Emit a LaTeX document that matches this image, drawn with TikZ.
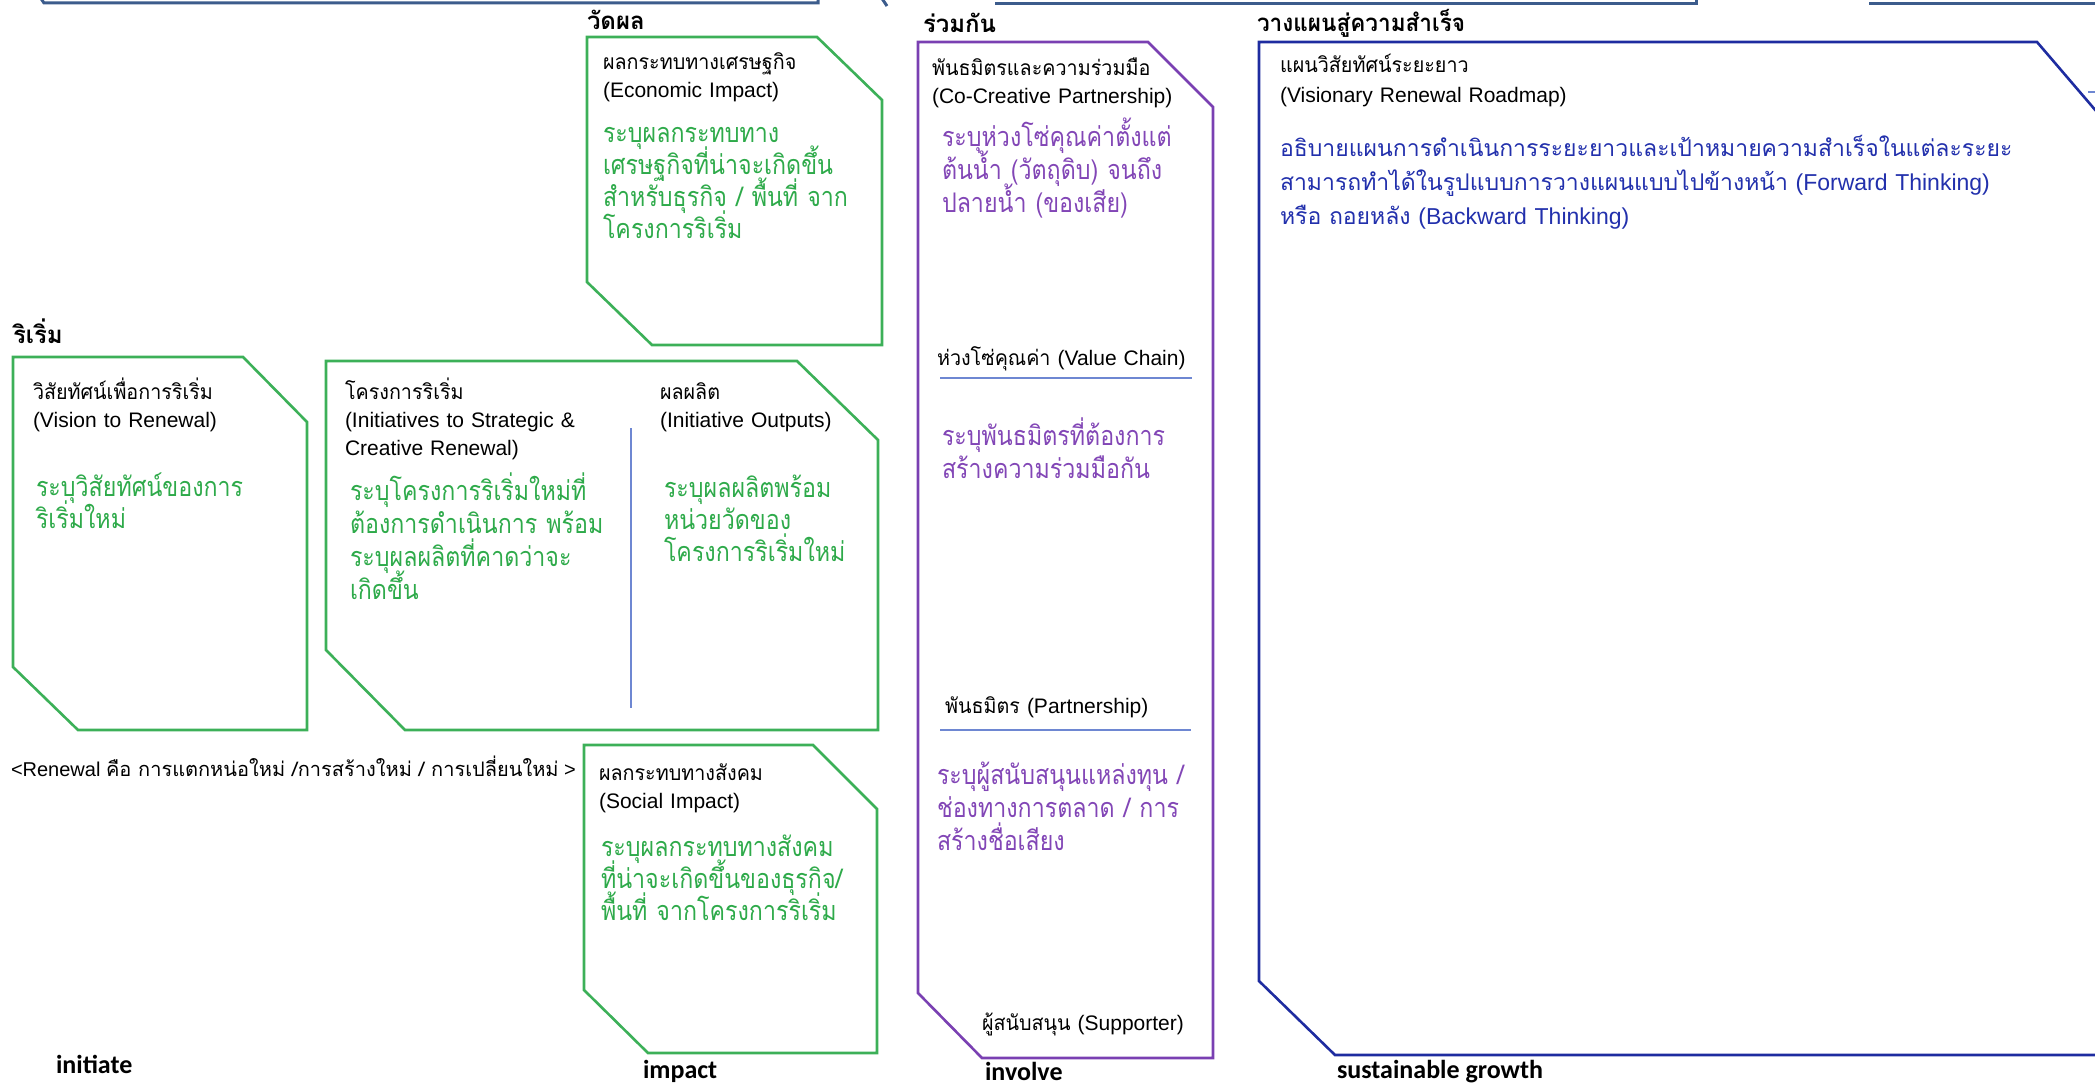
\documentclass[tikz,border=0pt]{standalone}
\usepackage{fontspec}
\setmainfont{Liberation Sans}
\newfontfamily\thaifont[Script=Thai]{Loma}
\newfontfamily\thaititle[Script=Thai, FakeStretch=0.94]{Loma}
\newfontfamily\thaicond[Script=Thai, FakeStretch=0.86]{Loma}
\newfontfamily\labelfont{Carlito}
\newcommand\tha[1]{{\thaititle #1}}
% keep baselines evenly spaced even where stacked marks are tall
\newcommand\tightskip{\lineskiplimit -100pt\relax}

\definecolor{boxgreen}{RGB}{60,176,88}
\definecolor{txtgreen}{RGB}{46,170,74}
\definecolor{boxpurple}{RGB}{122,64,178}
\definecolor{txtpurple}{RGB}{130,70,182}
\definecolor{boxblue}{RGB}{30,44,160}
\definecolor{txtblue}{RGB}{34,48,172}
\definecolor{rulecol}{RGB}{110,135,210}
\definecolor{edgecol}{RGB}{60,92,140}

\tikzset{
  every node/.style={inner sep=0pt, outer sep=0pt, anchor=base west},
  frame/.style={line width=2.6pt, line join=miter},
  divider/.style={draw=rulecol, line width=1.4pt},
  cutedge/.style={draw=edgecol, line width=3pt},
  head/.style={font=\fontsize{21}{28}\selectfont\tightskip, text width=700pt, align=left},
  body/.style={font=\thaicond\fontsize{27}{33}\selectfont\tightskip, text width=900pt, align=left},
  body32/.style={body, font=\thaicond\fontsize{27}{32}\selectfont\tightskip},
  section/.style={font=\thaifont\bfseries\fontsize{24}{28}\selectfont},
  tag/.style={font=\labelfont\bfseries\fontsize{26}{30}\selectfont},
}

\begin{document}
\begin{tikzpicture}[x=1pt, y=-1pt]
\useasboundingbox (0,0) rectangle (2095,1083);
\clip (0,0) rectangle (2095,1083);

% edges of the shapes above, cut by the top border
\draw[cutedge] (40,-3) -- (44,3) -- (818,3) -- (818,-4);
\draw[cutedge] (881,-3) -- (887,6);
\draw[cutedge] (995,4) -- (1696,4) -- (1696,-4);
\draw[cutedge] (1869,4) -- (2100,4);

% section headings
\node[section] (secA) at (13,343) {ริเริ่ม};
\node[section] (secB) at (587,30) {วัดผล};
\node[section] (secC) at (923,33) {ร่วมกัน};
\node[section, font=\thaititle\bfseries\fontsize{24}{28}\selectfont] (secD) at (1257,32) {วางแผนสู่ความสำเร็จ};

% green frames
\draw[frame, draw=boxgreen] (13,357) -- (243,357) -- (307,422) -- (307,730) -- (78,730) -- (13,667) -- cycle;
\draw[frame, draw=boxgreen] (326,361) -- (797,361) -- (878,440) -- (878,730) -- (405,730) -- (326,650) -- cycle;
\draw[frame, draw=boxgreen] (587,37) -- (817,37) -- (882,100) -- (882,345) -- (652,345) -- (587,282) -- cycle;
\draw[frame, draw=boxgreen] (584,745) -- (813,745) -- (877,809) -- (877,1053) -- (648,1053) -- (584,990) -- cycle;
\draw[divider] (631,428) -- (631,708);

% purple frame
\draw[frame, draw=boxpurple] (918,42) -- (1148,42) -- (1213,107) -- (1213,1058) -- (982,1058) -- (918,993) -- cycle;
\draw[divider] (940,378) -- (1192,378);
\draw[divider] (940,730) -- (1191,730);

% blue frame
\draw[frame, draw=boxblue] (1259,42) -- (2037,42) -- (2150,174) -- (2150,1055) -- (1335,1055) -- (1259,981) -- cycle;
\draw[divider] (2088,92) -- (2100,92);

% economic impact
\node[head] (econT) at (603,70) {\tha{ผลกระทบทางเศรษฐกิจ}\\(Economic Impact)};
\node[body32, text=txtgreen] (econB) at (603,143) {ระบุผลกระทบทาง\\เศรษฐกิจที่น่าจะเกิดขึ้น\\สำหรับธุรกิจ / พื้นที่ จาก\\โครงการริเริ่ม};

% vision
\node[head] (visT) at (33,399) {\tha{วิสัยทัศน์เพื่อการริเริ่ม}\\(Vision to Renewal)};
\node[body32, text=txtgreen] (visB) at (36,496) {ระบุวิสัยทัศน์ของการ\\ริเริ่มใหม่};

% initiatives and outputs
\node[head] (iniT) at (345,399) {\tha{โครงการริเริ่ม}\\(Initiatives to Strategic \&\\Creative Renewal)};
\node[body, text=txtgreen] (iniB) at (350,500) {ระบุโครงการริเริ่มใหม่ที่\\ต้องการดำเนินการ พร้อม\\ระบุผลผลิตที่คาดว่าจะ\\เกิดขึ้น};
\node[head] (outT) at (660,399) {\tha{ผลผลิต}\\(Initiative Outputs)};
\node[body32, text=txtgreen] (outB) at (664,497) {ระบุผลผลิตพร้อม\\หน่วยวัดของ\\โครงการริเริ่มใหม่};

% renewal note
\node[font=\fontsize{20}{26}\selectfont] (renew) at (11,776) {<Renewal {\thaifont คือ การแตกหน่อใหม่ /การสร้างใหม่ / การเปลี่ยนใหม่} >};

% social impact
\node[head] (socT) at (599,780) {\tha{ผลกระทบทางสังคม}\\(Social Impact)};
\node[body32, text=txtgreen] (socB) at (601,856) {ระบุผลกระทบทางสังคม\\ที่น่าจะเกิดขึ้นของธุรกิจ/\\พื้นที่ จากโครงการริเริ่ม};

% partnership column
\node[head] (purT) at (932,76) {\tha{พันธมิตรและความร่วมมือ}\\(Co-Creative Partnership)};
\node[body, text=txtpurple] (purB1) at (942,147) {ระบุห่วงโซ่คุณค่าตั้งแต่\\ต้นน้ำ (วัตถุดิบ) จนถึง\\ปลายน้ำ (ของเสีย)};
\node[head] (vchain) at (937,365) {\tha{ห่วงโซ่คุณค่า} (Value Chain)};
\node[body, text=txtpurple] (purB2) at (942,445) {ระบุพันธมิตรที่ต้องการ\\สร้างความร่วมมือกัน};
\node[head] (partn) at (945,713) {\tha{พันธมิตร} (Partnership)};
\node[body, text=txtpurple] (purB3) at (937,784) {ระบุผู้สนับสนุนแหล่งทุน /\\ช่องทางการตลาด / การ\\สร้างชื่อเสียง};
\node[head] (supp) at (982,1030) {\tha{ผู้สนับสนุน} (Supporter)};

% roadmap
\node[head, font=\fontsize{21}{30}\selectfont\tightskip] (bluT) at (1280,73) {\tha{แผนวิสัยทัศน์ระยะยาว}\\(Visionary Renewal Roadmap)};
\node[body, text=txtblue, font=\thaifont\fontsize{23}{34}\selectfont\tightskip] (bluB) at (1280,157) {อธิบายแผนการดำเนินการระยะยาวและเป้าหมายความสำเร็จในแต่ละระยะ\\สามารถทำได้ในรูปแบบการวางแผนแบบไปข้างหน้า {\rmfamily (Forward Thinking)}\\หรือ ถอยหลัง {\rmfamily (Backward Thinking)}};

% stage tags
\node[tag] (tagA) at (56,1073) {initiate};
\node[tag] (tagB) at (643,1078) {impact};
\node[tag] (tagC) at (985,1080) {involve};
\node[tag] (tagD) at (1337,1078) {sustainable growth};
\end{tikzpicture}
\end{document}
